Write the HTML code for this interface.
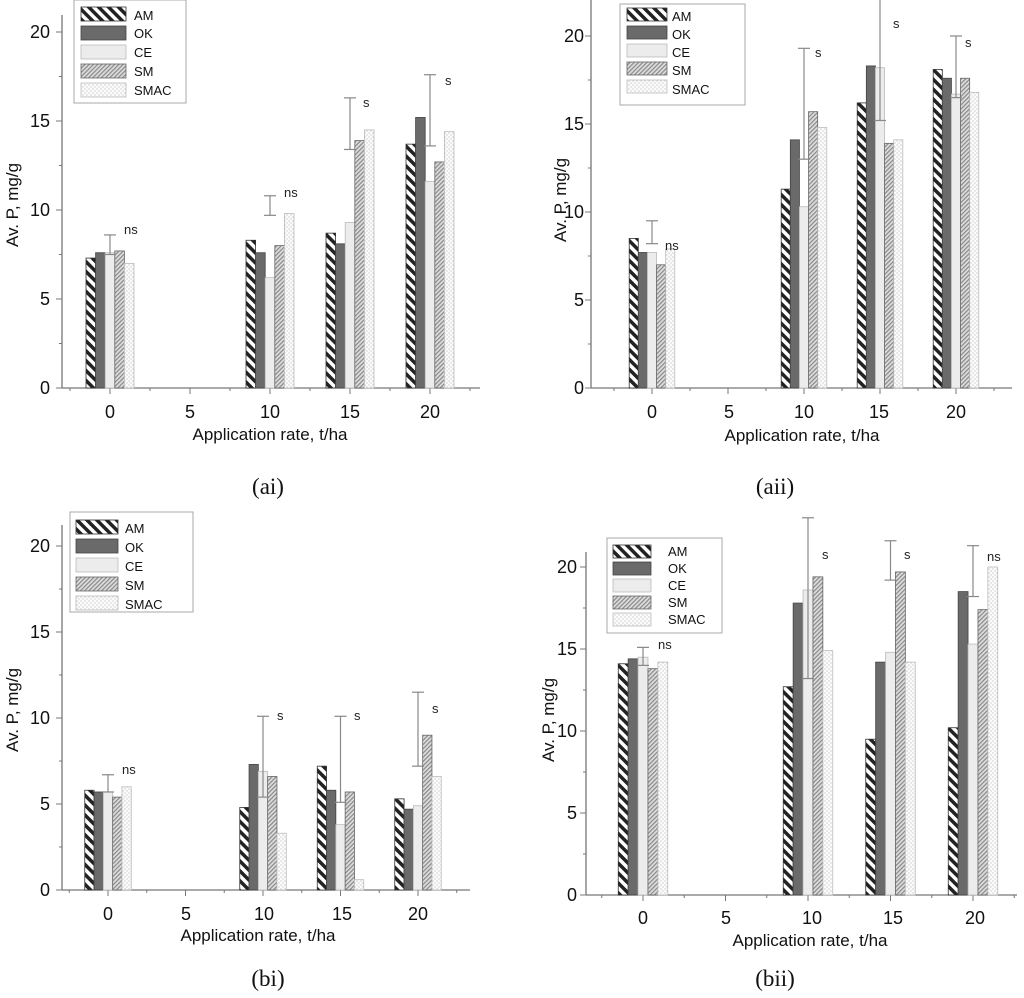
<!DOCTYPE html>
<html><head><meta charset="utf-8"><style>
html,body{margin:0;padding:0;background:#fff;}
svg{display:block;font-family:"Liberation Sans",sans-serif;}
.t{font-size:18px;fill:#111;}
.xl{font-size:17px;fill:#111;}
.lg{font-size:13px;fill:#111;}
.an{font-size:13px;fill:#222;}
.cap{font-family:"Liberation Serif",serif;font-size:23px;fill:#111;}
</style></head><body>
<svg id="s" width="1024" height="998" viewBox="0 0 1024 998" xmlns="http://www.w3.org/2000/svg">
<defs>
<pattern id="pAM" width="7" height="7" patternUnits="userSpaceOnUse" patternTransform="rotate(-45)"><rect width="7" height="7" fill="#fff"/><rect width="3.5" height="7" fill="#222"/></pattern>
<pattern id="pSM" width="3" height="3" patternUnits="userSpaceOnUse" patternTransform="rotate(45)"><rect width="3" height="3" fill="#ddd"/><rect width="1.2" height="3" fill="#888"/></pattern>
<pattern id="pSMAC" width="4" height="4" patternUnits="userSpaceOnUse"><rect width="4" height="4" fill="#fbfbfb"/><circle cx="1" cy="1" r="0.7" fill="#ccc"/><circle cx="3" cy="3" r="0.7" fill="#ccc"/></pattern>
</defs>
<g id="bars"></g>

<!-- (ai) text -->
<g class="t" text-anchor="end">
<text x="50" y="394">0</text><text x="50" y="305">5</text><text x="50" y="216">10</text><text x="50" y="127">15</text><text x="50" y="38">20</text>
</g>
<g class="t" text-anchor="middle">
<text x="110" y="418">0</text><text x="190" y="418">5</text><text x="270" y="418">10</text><text x="350" y="418">15</text><text x="430" y="418">20</text>
</g>
<text class="xl" x="270" y="440" text-anchor="middle">Application rate, t/ha</text>
<text class="xl" transform="translate(18,205) rotate(-90)" text-anchor="middle">Av. P, mg/g</text>
<text class="cap" x="268" y="494" text-anchor="middle">(ai)</text>
<text class="an" x="124" y="234">ns</text><text class="an" x="284" y="197">ns</text><text class="an" x="363" y="107">s</text><text class="an" x="445" y="85">s</text>

<!-- (aii) text -->
<g class="t" text-anchor="end">
<text x="584" y="394">0</text><text x="584" y="306">5</text><text x="584" y="218">10</text><text x="584" y="130">15</text><text x="584" y="42">20</text>
</g>
<g class="t" text-anchor="middle">
<text x="652" y="418">0</text><text x="729" y="418">5</text><text x="804" y="418">10</text><text x="879" y="418">15</text><text x="956" y="418">20</text>
</g>
<text class="xl" x="802" y="441" text-anchor="middle">Application rate, t/ha</text>
<text class="xl" transform="translate(566,200) rotate(-90)" text-anchor="middle">Av. P, mg/g</text>
<text class="cap" x="775" y="494" text-anchor="middle">(aii)</text>
<text class="an" x="665" y="250">ns</text><text class="an" x="815" y="57">s</text><text class="an" x="893" y="28">s</text><text class="an" x="965" y="47">s</text>

<!-- (bi) text -->
<g class="t" text-anchor="end">
<text x="50" y="896">0</text><text x="50" y="810">5</text><text x="50" y="724">10</text><text x="50" y="638">15</text><text x="50" y="552">20</text>
</g>
<g class="t" text-anchor="middle">
<text x="108" y="920">0</text><text x="186" y="920">5</text><text x="264" y="920">10</text><text x="342" y="920">15</text><text x="418" y="920">20</text>
</g>
<text class="xl" x="258" y="941" text-anchor="middle">Application rate, t/ha</text>
<text class="xl" transform="translate(18,710) rotate(-90)" text-anchor="middle">Av. P, mg/g</text>
<text class="cap" x="268" y="986" text-anchor="middle">(bi)</text>
<text class="an" x="122" y="774">ns</text><text class="an" x="277" y="720">s</text><text class="an" x="354" y="720">s</text><text class="an" x="432" y="713">s</text>

<!-- (bii) text -->
<g class="t" text-anchor="end">
<text x="577" y="901">0</text><text x="577" y="819">5</text><text x="577" y="737">10</text><text x="577" y="655">15</text><text x="577" y="573">20</text>
</g>
<g class="t" text-anchor="middle">
<text x="643" y="924">0</text><text x="726" y="924">5</text><text x="812" y="924">10</text><text x="893" y="924">15</text><text x="975" y="924">20</text>
</g>
<text class="xl" x="810" y="946" text-anchor="middle">Application rate, t/ha</text>
<text class="xl" transform="translate(554,720) rotate(-90)" text-anchor="middle">Av. P, mg/g</text>
<text class="cap" x="775" y="986" text-anchor="middle">(bii)</text>
<text class="an" x="658" y="649">ns</text><text class="an" x="822" y="559">s</text><text class="an" x="904" y="559">s</text><text class="an" x="987" y="561">ns</text>

<!-- legends -->
<g id="legends"></g>
<g class="lg">
<text x="134" y="20">AM</text><text x="134" y="38">OK</text><text x="134" y="57">CE</text><text x="134" y="76">SM</text><text x="134" y="95">SMAC</text>
<text x="672" y="21">AM</text><text x="672" y="39">OK</text><text x="672" y="57">CE</text><text x="672" y="75">SM</text><text x="672" y="94">SMAC</text>
<text x="125" y="533">AM</text><text x="125" y="552">OK</text><text x="125" y="571">CE</text><text x="125" y="590">SM</text><text x="125" y="609">SMAC</text>
<text x="668" y="556">AM</text><text x="668" y="573">OK</text><text x="668" y="590">CE</text><text x="668" y="607">SM</text><text x="668" y="624">SMAC</text>
</g>
</svg>
<script>
var NS="http://www.w3.org/2000/svg";
var g=document.getElementById('bars'),lgG=document.getElementById('legends');
function el(p,t,a){var e=document.createElementNS(NS,t);for(var k in a)e.setAttribute(k,a[k]);p.appendChild(e);return e;}
var fills=["url(#pAM)","#6a6a6a","#ececec","url(#pSM)","url(#pSMAC)"];
var strokes=["#333","#444","#bbb","#666","#bbb"];
var P=[
 {ax:62,y0:388,sc:17.8,x0:110,xs:16,xEnd:480,yTop:15,data:[[0,[7.3,7.6,7.6,7.7,7.0],[7.5,8.6]],[10,[8.3,7.6,6.2,8.0,9.8],[9.7,10.8]],[15,[8.7,8.1,9.3,13.9,14.5],[13.4,16.3]],[20,[13.7,15.2,11.6,12.7,14.4],[13.6,17.6]]]},
 {ax:591,y0:388,sc:17.6,x0:652,xs:15.2,xEnd:1012,yTop:0,data:[[0,[8.5,7.7,7.7,7.0,7.9],[8.2,9.5]],[10,[11.3,14.1,10.3,15.7,14.8],[13.0,19.3]],[15,[16.2,18.3,18.2,13.9,14.1],[15.2,22.5]],[20,[18.1,17.6,16.7,17.6,16.8],[16.5,20.0]]]},
 {ax:62,y0:890,sc:17.2,x0:108,xs:15.5,xEnd:470,yTop:525,data:[[0,[5.8,5.7,5.7,5.4,6.0],[5.7,6.7]],[10,[4.8,7.3,6.9,6.6,3.3],[5.4,10.1]],[15,[7.2,5.8,3.8,5.7,0.6],[5.1,10.1]],[20,[5.3,4.7,4.9,9.0,6.6],[7.2,11.5]]]},
 {ax:586,y0:895,sc:16.4,x0:643,xs:16.5,xEnd:1017,yTop:552,data:[[0,[14.1,14.4,14.5,13.8,14.2],[14.0,15.1]],[10,[12.7,17.8,18.6,19.4,14.9],[13.2,23.0]],[15,[9.5,14.2,14.8,19.7,14.2],[19.2,21.6]],[20,[10.2,18.5,15.3,17.4,20.0],[18.2,21.3]]]}
];
P.forEach(function(p){
 var bw=p.xs*0.6;
 el(g,'line',{x1:p.ax,y1:p.yTop,x2:p.ax,y2:p.y0,stroke:'#777','stroke-width':1.3});
 el(g,'line',{x1:p.ax,y1:p.y0,x2:p.xEnd,y2:p.y0,stroke:'#777','stroke-width':1.3});
 for(var v=0;v<=22.5;v+=2.5){var y=p.y0-v*p.sc;if(y<p.yTop)break;el(g,'line',{x1:p.ax-(v%5?3:6),y1:y,x2:p.ax,y2:y,stroke:'#777'});}
 for(var u=-2.5;u<=22.5;u+=2.5){var x=p.x0+u*p.xs;if(x<p.ax||x>p.xEnd)continue;el(g,'line',{x1:x,y1:p.y0,x2:x,y2:p.y0+(u%5?3:6),stroke:'#777'});}
 p.data.forEach(function(d){
  var c=p.x0+d[0]*p.xs,s=c-2.5*bw;
  d[1].forEach(function(v,i){var h=v*p.sc;el(g,'rect',{x:s+i*bw,y:p.y0-h,width:bw,height:h,fill:fills[i],stroke:strokes[i],'stroke-width':0.8});});
  var y1=p.y0-d[2][0]*p.sc,y2=p.y0-d[2][1]*p.sc;
  el(g,'line',{x1:c,y1:y1,x2:c,y2:y2,stroke:'#888','stroke-width':1.2});
  el(g,'line',{x1:c-6,y1:y1,x2:c+6,y2:y1,stroke:'#888','stroke-width':1.2});
  el(g,'line',{x1:c-6,y1:y2,x2:c+6,y2:y2,stroke:'#888','stroke-width':1.2});
 });
});
var L=[[74,0,112,103,81,7,19,45,14],[620,4,125,101,627,8,18,40,13],[70,512,123,100,76,520,19,42,14],[607,538,115,95,613,545,17,38,13]];
L.forEach(function(l){
 el(lgG,'rect',{x:l[0],y:l[1],width:l[2],height:l[3],fill:'#fff',stroke:'#aaa','stroke-width':1});
 for(var i=0;i<5;i++)el(lgG,'rect',{x:l[4],y:l[5]+i*l[6],width:l[7],height:l[8],fill:fills[i],stroke:strokes[i],'stroke-width':0.8});
});
</script>
</body></html>
